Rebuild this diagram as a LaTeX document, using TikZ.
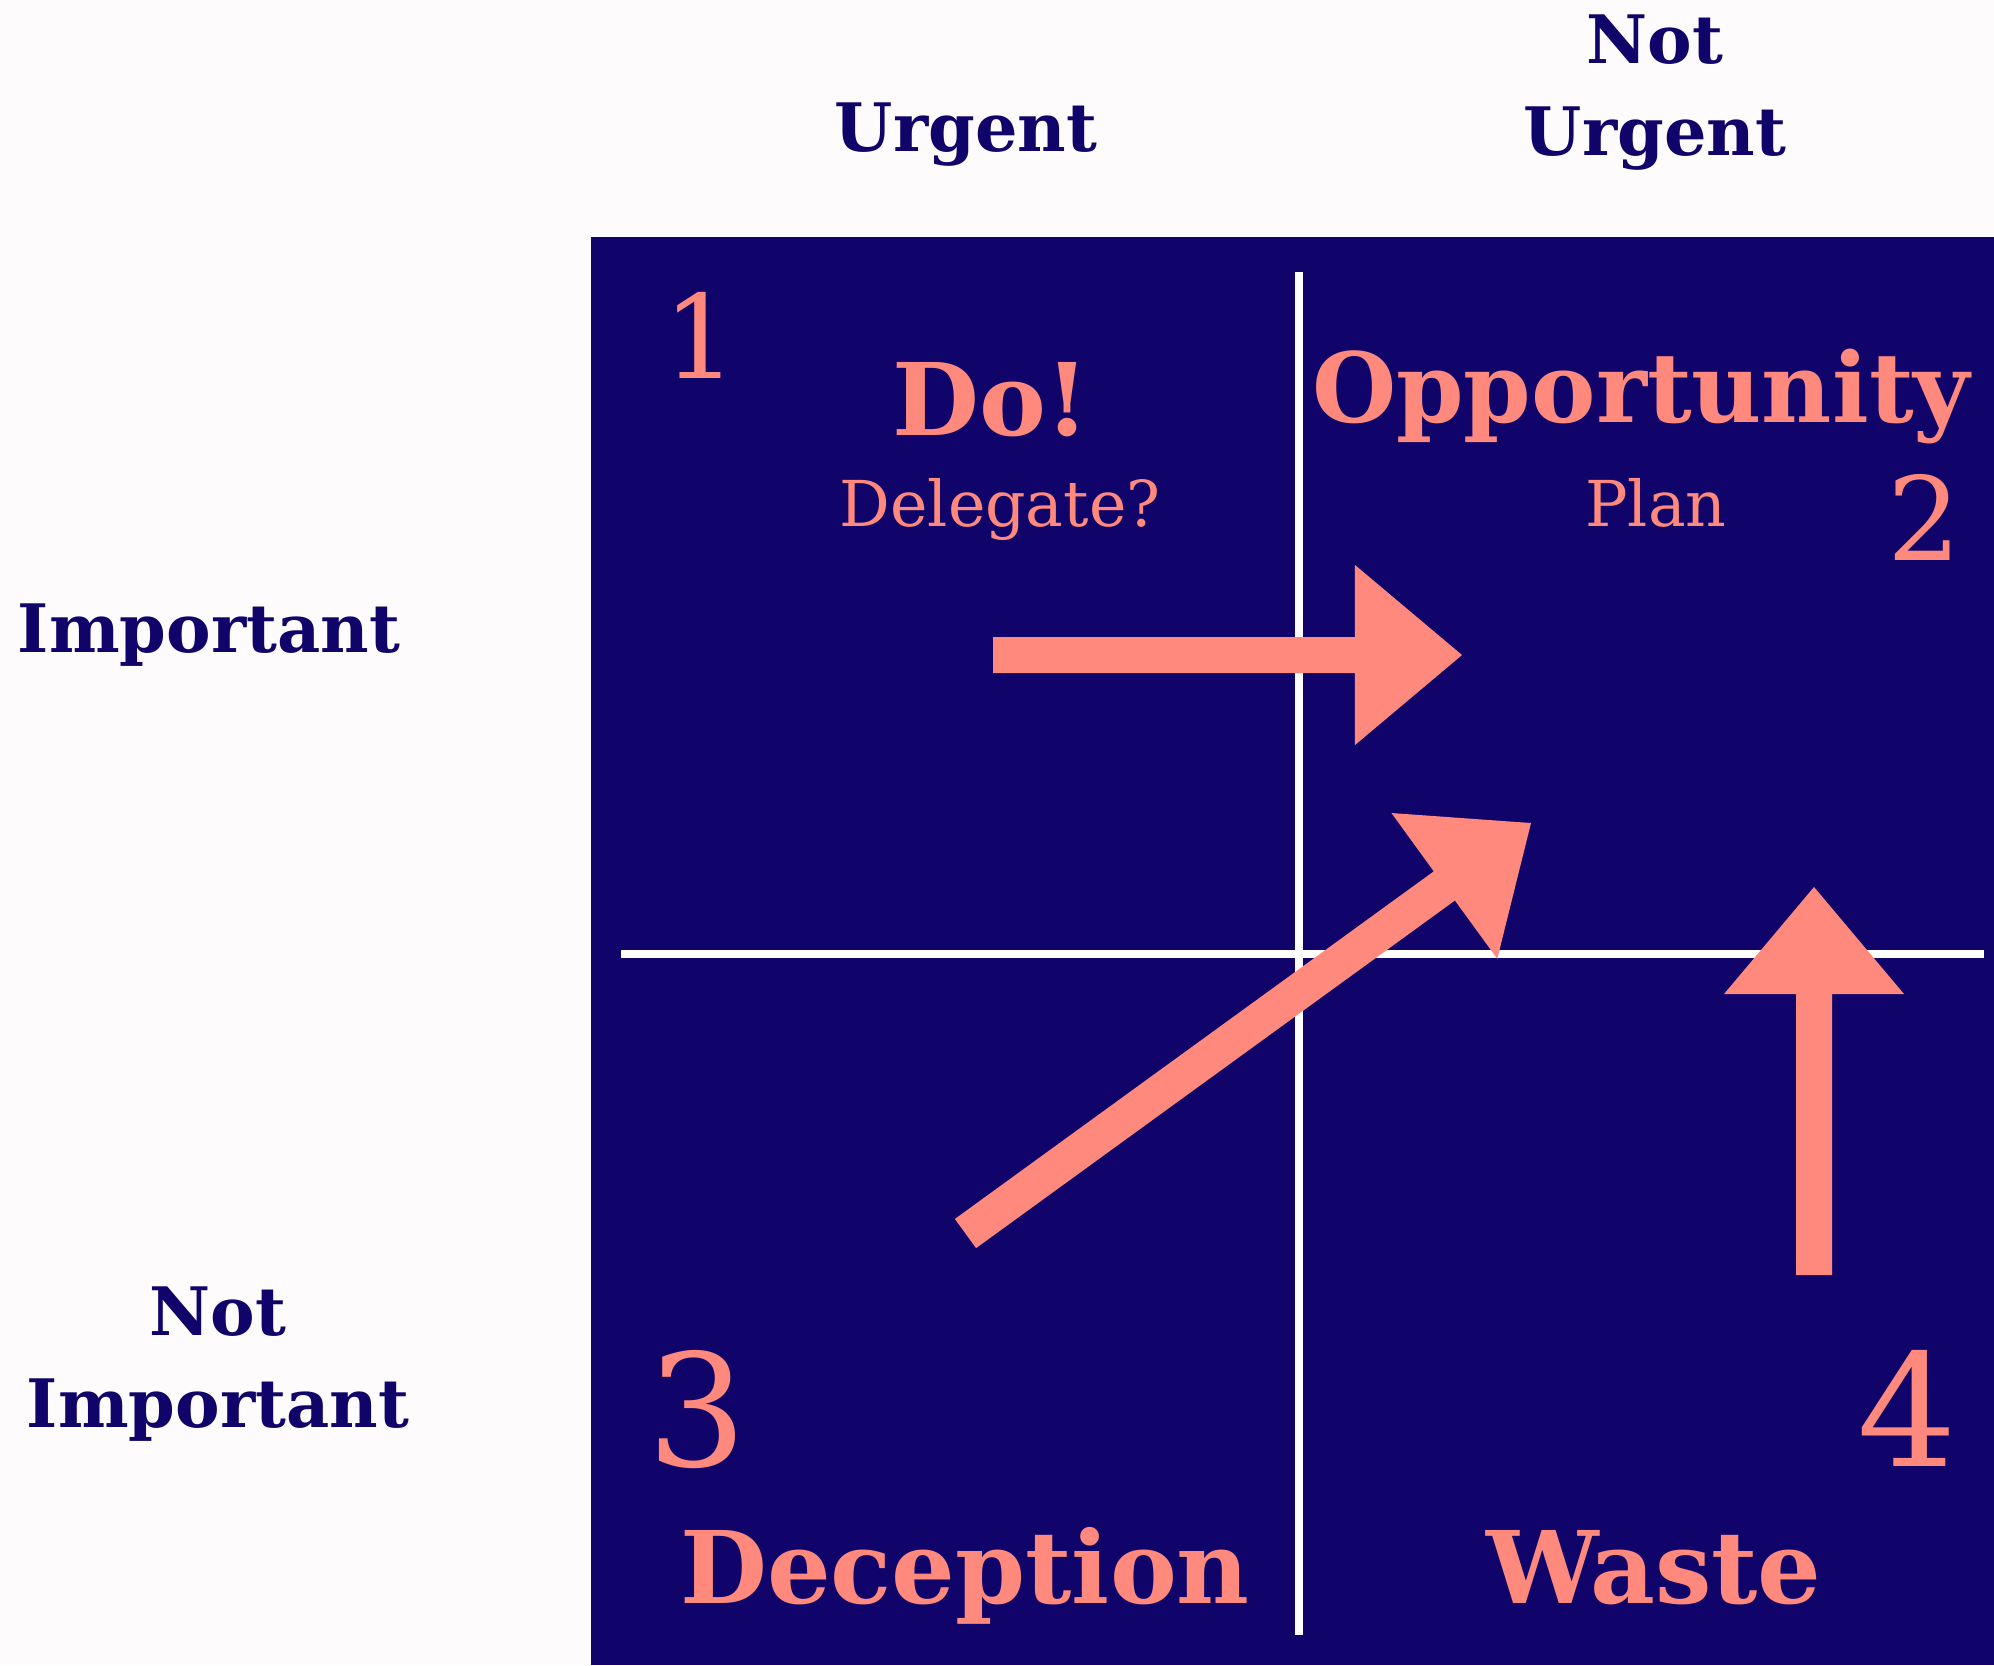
\documentclass[tikz,border=0pt]{standalone}
\usepackage{fontspec}
\setmainfont{DejaVu Serif}
\usetikzlibrary{calc}

\definecolor{navy}{RGB}{16,4,106}
\definecolor{salmon}{RGB}{255,137,125}
\definecolor{paper}{RGB}{253,251,251}

% block arrow from #1 (tail) to #2 (tip)
\newcommand{\blockarrow}[2]{%
  \coordinate (arrbase) at ($(#2)!1.07cm!(#1)$);
  \fill[salmon] ($(#1)!0.18cm!90:(#2)$) -- ($(arrbase)!0.18cm!90:(#2)$)
    -- ($(arrbase)!0.9cm!90:(#2)$) -- (#2) -- ($(arrbase)!0.9cm!-90:(#2)$)
    -- ($(arrbase)!0.18cm!-90:(#2)$) -- ($(#1)!0.18cm!-90:(#2)$) -- cycle;
}

\begin{document}
\begin{tikzpicture}[x=0.01cm, y=-0.01cm,
    axis/.style={navy, font=\fontsize{19}{25.9}\selectfont\bfseries, align=center, anchor=base, inner sep=0},
    title/.style={salmon, font=\fontsize{28.5}{35}\selectfont\bfseries, anchor=base, inner sep=0},
    hint/.style={salmon, font=\fontsize{18}{22}\selectfont, anchor=base, inner sep=0},
    num/.style={salmon, font=\fontsize{33}{40}\selectfont, anchor=base, inner sep=0},
    bignum/.style={salmon, font=\fontsize{44.5}{50}\selectfont, anchor=base, inner sep=0}]
  \useasboundingbox (0,0) rectangle (1994,1665);
  \fill[paper] (0,0) rectangle (1994,1665);
  \fill[navy] (591,237) rectangle (1994,1665);

  % quadrant lines
  \draw[white, line width=0.08cm] (1299,272) -- (1299,1635);
  \draw[white, line width=0.08cm] (621,954) -- (1984,954);

  % arrows into quadrant 2
  \coordinate (q1-tail) at (993,655);
  \coordinate (q1-tip) at (1462,655);
  \coordinate (q3-tail) at (965.5,1233.5);
  \coordinate (q3-tip) at (1531,823);
  \coordinate (q4-tail) at (1814,1275);
  \coordinate (q4-tip) at (1814,887);
  \blockarrow{q1-tail}{q1-tip}
  \blockarrow{q3-tail}{q3-tip}
  \blockarrow{q4-tail}{q4-tip}

  % axis labels (two-line ones sit on their last line)
  \node[axis] (urgent) at (966,151) {Urgent};
  \node[axis] (noturgent) at (1655,155) {Not\\Urgent};
  \node[axis] (important) at (209,652) {Important};
  \node[axis] (notimportant) at (218,1427) {Not\\Important};

  % quadrants
  \node[num] (n1) at (700,378) {1};
  \node[title] (do) at (991,435) {Do!};
  \node[hint] (delegate) at (1000,526) {Delegate?};
  \node[title, font=\fontsize{27.5}{35}\selectfont\bfseries] (opp) at (1641,422) {Opportunity};
  \node[hint] (plan) at (1656,526) {Plan};
  \node[num] (n2) at (1924,560) {2};
  \node[bignum] (n3) at (697,1466) {3};
  \node[bignum] (n4) at (1907,1466) {4};
  \node[title] (deception) at (965,1603) {Deception};
  \node[title] (waste) at (1654,1603) {Waste};
\end{tikzpicture}
\end{document}
